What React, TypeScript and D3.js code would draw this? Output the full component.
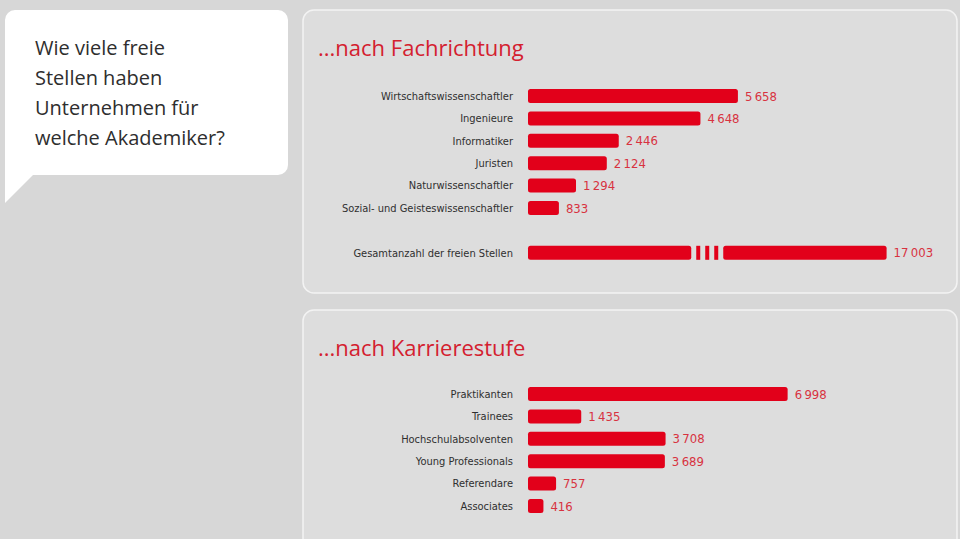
import * as d3 from "d3";
import React, { useEffect, useRef } from "react";

// offene Stellen nach Fachrichtung
const fachLabels = [
    "Wirtschaftswissenschaftler",
    "Ingenieure",
    "Informatiker",
    "Juristen",
    "Naturwissenschaftler",
    "Sozial- und Geisteswissenschaftler",
];
const fachValues = [5658, 4648, 2446, 2124, 1294, 833];
const totalLabel = "Gesamtanzahl der freien Stellen";
const totalValue = 17003;

// offene Stellen nach Karrierestufe
const stufeLabels = [
    "Praktikanten",
    "Trainees",
    "Hochschulabsolventen",
    "Young Professionals",
    "Referendare",
    "Associates",
];
const stufeValues = [6998, 1435, 3708, 3689, 757, 416];

const questionLines = [
    "Wie viele freie",
    "Stellen haben",
    "Unternehmen für",
    "welche Akademiker?",
];

const RED = "#e2001a";
const LABEL_RED = "#d8323f";
const BAR_H = 14;
const labelFont = "'DejaVu Sans Condensed', 'Roboto', sans-serif";
const titleFont = "'Open Sans', 'Roboto', sans-serif";

const fmt = d3.formatLocale({
    decimal: ",",
    thousands: "\u2009",
    grouping: [3],
    currency: ["", " €"],
}).format(",d");

export default function App() {
    const ref = useRef<SVGSVGElement>(null);

    useEffect(() => {
        const svg = d3.select(ref.current);
        svg.selectAll("*").remove();

        // background
        svg.append("rect").attr("width", 960).attr("height", 539).attr("fill", "#d7d7d7");

        // speech bubble with the question
        const p = d3.path();
        p.moveTo(15, 10);
        p.lineTo(278, 10);
        p.arcTo(288, 10, 288, 20, 10);
        p.lineTo(288, 165);
        p.arcTo(288, 175, 278, 175, 10);
        p.lineTo(33, 175);
        p.lineTo(5, 203);
        p.lineTo(5, 20);
        p.arcTo(5, 10, 15, 10, 10);
        p.closePath();
        svg.append("path").attr("d", p.toString()).attr("fill", "#ffffff");

        svg.append("g")
            .selectAll("text")
            .data(questionLines)
            .join("text")
            .attr("x", 35)
            .attr("y", (d, i) => 55 + i * 30)
            .attr("fill", "#2e2e2e")
            .style("font-family", titleFont)
            .style("font-size", "20px")
            .text((d) => d);

        // value axis shared by both panels
        const x = d3.scaleLinear().domain([0, 10000]).range([528, 899]);

        function panel(y0: number, h: number, title: string) {
            const g = svg.append("g");
            g.append("rect")
                .attr("x", 303)
                .attr("y", y0)
                .attr("width", 654)
                .attr("height", h)
                .attr("rx", 11)
                .attr("fill", "#dddddd")
                .attr("stroke", "#f3f3f3")
                .attr("stroke-width", 1.5);
            g.append("text")
                .attr("x", 318)
                .attr("y", y0 + 46)
                .attr("fill", "#d4202f")
                .style("font-family", titleFont)
                .style("font-size", "22px")
                .text(title);
            return g;
        }

        function rows(g: any, y: any, labels: string[], values: number[]) {
            const row = g
                .selectAll(".row")
                .data(labels.map((l, i) => ({ label: l, value: values[i] })))
                .join("g")
                .attr("class", "row")
                .attr("transform", (d: any) => `translate(0,${y(d.label) + y.bandwidth() / 2})`);
            row.append("text")
                .attr("x", 513)
                .attr("dy", "0.35em")
                .attr("text-anchor", "end")
                .attr("fill", "#2f2f2f")
                .style("font-family", labelFont)
                .style("font-size", "11px")
                .text((d: any) => d.label);
            row.append("rect")
                .attr("x", x(0))
                .attr("y", -BAR_H / 2)
                .attr("width", (d: any) => x(d.value) - x(0))
                .attr("height", BAR_H)
                .attr("rx", 2.5)
                .attr("fill", RED);
            row.append("text")
                .attr("x", (d: any) => x(d.value) + 7)
                .attr("dy", "0.36em")
                .attr("fill", LABEL_RED)
                .style("font-family", labelFont)
                .style("font-size", "13px")
                .text((d: any) => fmt(d.value));
        }

        // ...nach Fachrichtung
        const top = panel(10, 283, "...nach Fachrichtung");
        const yTop = d3
            .scaleBand()
            .domain([...fachLabels, "", totalLabel])
            .range([84.8, 264]);
        rows(top, yTop, fachLabels, fachValues);

        // total bar on a broken axis
        const breakLo = 4400;
        const breakHi = 12600;
        const gap = 32;
        const xb = d3
            .scaleLinear()
            .domain([0, breakLo, breakHi, totalValue])
            .range([x(0), x(breakLo), x(breakLo) + gap, x(breakLo) + gap + x(totalValue - breakHi) - x(0)]);
        const ty = (yTop(totalLabel) as number) + yTop.bandwidth() / 2;
        const tg = top.append("g").attr("transform", `translate(0,${ty})`);
        tg.append("text")
            .attr("x", 513)
            .attr("dy", "0.35em")
            .attr("text-anchor", "end")
            .attr("fill", "#2f2f2f")
            .style("font-family", labelFont)
            .style("font-size", "11px")
            .text(totalLabel);
        tg.selectAll(".seg")
            .data([
                [0, breakLo],
                [breakHi, totalValue],
            ])
            .join("rect")
            .attr("class", "seg")
            .attr("x", (d) => xb(d[0]))
            .attr("y", -BAR_H / 2)
            .attr("width", (d) => xb(d[1]) - xb(d[0]))
            .attr("height", BAR_H)
            .attr("rx", 2.5)
            .attr("fill", RED);
        // stripes inside the break
        tg.selectAll(".stripe")
            .data([0, 1, 2])
            .join("rect")
            .attr("class", "stripe")
            .attr("x", (i) => xb(breakLo) + 5 + i * 9)
            .attr("y", -BAR_H / 2)
            .attr("width", 4)
            .attr("height", BAR_H)
            .attr("fill", RED);
        tg.append("text")
            .attr("x", xb(totalValue) + 7)
            .attr("dy", "0.36em")
            .attr("fill", LABEL_RED)
            .style("font-family", labelFont)
            .style("font-size", "13px")
            .text(fmt(totalValue));

        // ...nach Karrierestufe
        const bottom = panel(310, 260, "...nach Karrierestufe");
        const yBot = d3.scaleBand().domain(stufeLabels).range([382.8, 517.2]);
        rows(bottom, yBot, stufeLabels, stufeValues);
    }, []);

    return (
        <svg
            ref={ref}
            width={960}
            height={539}
            style={{ position: "absolute", left: 0, top: 0 }}
        ></svg>
    );
}
